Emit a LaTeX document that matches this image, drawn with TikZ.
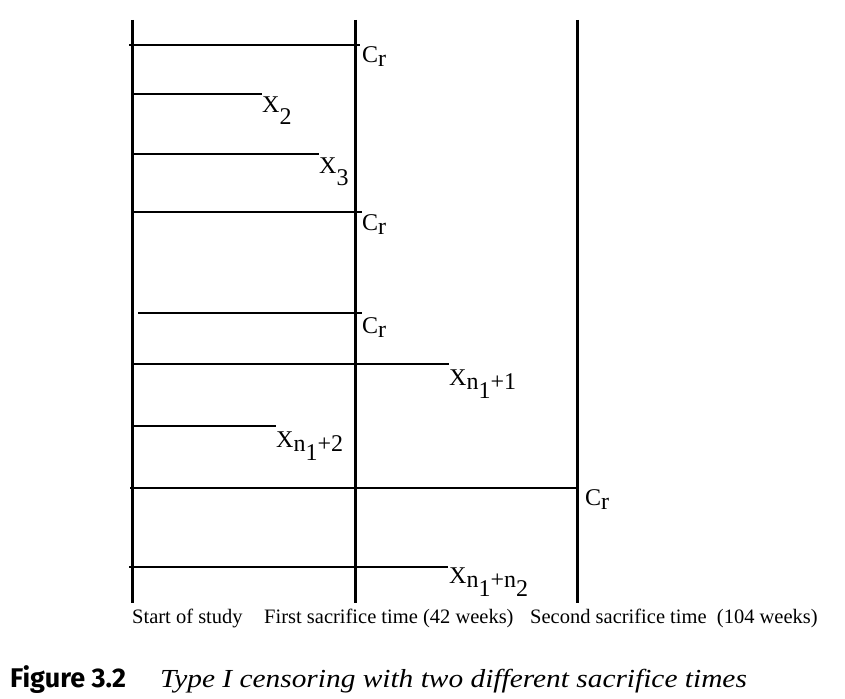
\documentclass[tikz,border=0pt]{standalone}
\usepackage{fontspec}
\setmainfont{Liberation Serif}
\newfontfamily\figsans{Fira Sans}
\newfontfamily\capital[FakeStretch=1.13]{Liberation Serif Italic}
\usetikzlibrary{positioning}
\tikzstyle{sacrifice}=[line width=3pt]
\tikzstyle{subject}  =[line width=1.1pt]
\tikzstyle{lbl}      =[anchor=base west, inner sep=0pt,
                       font=\fontsize{24}{24}\selectfont]
\tikzstyle{axislbl}  =[anchor=base west, inner sep=0pt,
                       font=\fontsize{20.5}{20.5}\selectfont]
\newcommand{\dn}[2][4pt]{\raisebox{-#1}{#2}}

\begin{document}
\begin{tikzpicture}[x=1pt, y=-1pt]
        \useasboundingbox (0,0) rectangle (845,698);

                % three time points
                \foreach \n/\x in {a/132, b/355, c/577} {
                  \coordinate (top\n) at (\x,20);
                  \coordinate (bot\n) at (\x,603);
                  \draw[sacrifice] (top\n) -- (bot\n);
                }

                % subjects
                \coordinate (s1) at (129,45);  \coordinate (e1) at (360,45);
                \coordinate (s2) at (132,94);  \coordinate (e2) at (262,94);
                \coordinate (s3) at (132,154); \coordinate (e3) at (319,154);
                \coordinate (s4) at (132,212); \coordinate (e4) at (362,212);
                \coordinate (s5) at (138,313); \coordinate (e5) at (362,313);
                \coordinate (s6) at (132,364); \coordinate (e6) at (449,364);
                \coordinate (s7) at (132,426); \coordinate (e7) at (276,426);
                \coordinate (s8) at (130,488); \coordinate (e8) at (577,488);
                \coordinate (s9) at (129,567); \coordinate (e9) at (448,567);

                \draw[subject] (s1) -- (e1);
                \draw[subject] (s2) -- (e2);
                \draw[subject] (s3) -- (e3);
                \draw[subject] (s4) -- (e4);
                \draw[subject] (s5) -- (e5);
                \draw[subject] (s6) -- (e6);
                \draw[subject] (s7) -- (e7);
                \draw[subject] (s8) -- (e8);
                \draw[subject] (s9) -- (e9);

                \node[lbl] (l1) at (362,63)  {C\dn{r}};
                \node[lbl] (l2) at (262,113) {X\dn[12pt]{2}};
                \node[lbl] (l3) at (319,173) {X\dn[12pt]{3}};
                \node[lbl] (l4) at (362,230) {C\dn{r}};
                \node[lbl] (l5) at (362,333) {C\dn{r}};
                \node[lbl] (l6) at (449,385) {X\dn{n\dn[9pt]{1}+1}};
                \node[lbl] (l7) at (276,447) {X\dn{n\dn[9pt]{1}+2}};
                \node[lbl] (l8) at (585,505) {C\dn{r}};
                \node[lbl] (l9) at (449,583) {X\dn{n\dn[9pt]{1}+n\dn[9pt]{2}}};

                % time axis
                \node[axislbl] (t0) at (132,623) {Start of study};
                \node[axislbl] (t1) at (264,623) {First sacrifice time (42 weeks)};
                \node[axislbl] (t2) at (530,623) {Second sacrifice time~~(104 weeks)};

                % caption
                \node[anchor=base west, inner sep=0pt,
                      font=\figsans\bfseries\fontsize{27}{27}\selectfont]
                      (fig) at (10,687) {Figure 3.2};
                \node[anchor=base west, inner sep=0pt,
                      font=\capital\fontsize{26}{26}\selectfont]
                      (cap) at (160,687) {Type I censoring with two different sacrifice times};

        \end{tikzpicture}
\end{document}
